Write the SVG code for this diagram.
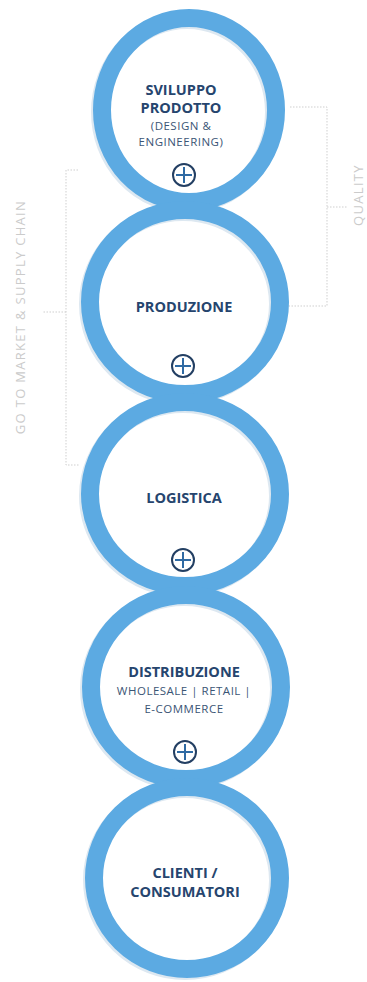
<svg xmlns="http://www.w3.org/2000/svg" width="367" height="982" viewBox="0 0 367 982">
<style>
.ring{fill:none;stroke:#5CAAE2;stroke-width:18}
.shadow{fill:none;stroke:#dde8f1;stroke-width:18}
.t{font-family:"Open Sans","Liberation Sans",sans-serif;font-weight:bold;font-size:14.5px;fill:#26456e;text-anchor:middle}
.s{font-family:"Open Sans","Liberation Sans",sans-serif;font-size:11.5px;fill:#3b5575;text-anchor:middle;letter-spacing:0.5px}
.pc{fill:none;stroke:#233f63;stroke-width:2}
.pl{stroke:#2f6aa3;stroke-width:2}
.br{fill:none;stroke:#cfcfcf;stroke-width:1;stroke-dasharray:1.5 1.5}
.side{font-family:"Open Sans","Liberation Sans",sans-serif;font-size:13px;fill:#cbcbcb;text-anchor:middle;letter-spacing:1.3px}
</style>
<g id="connectors">
<path class="br" d="M78,170 H66 V465 H80 M66,312 H42"/>
<path class="br" d="M290,107 H327 V306 H288 M327,207 H348"/>
</g>
<g id="labels">
<text class="side" transform="translate(25,317) rotate(-90)">GO TO MARKET &amp; SUPPLY CHAIN</text>
<text class="side" transform="translate(363,195) rotate(-90)">QUALITY</text>
</g>
<g id="shadows">
<ellipse class="shadow" cx="187" cy="112" rx="87" ry="92"/>
<ellipse class="shadow" cx="183" cy="304" rx="95" ry="92"/>
<ellipse class="shadow" cx="183" cy="496" rx="95" ry="92"/>
<ellipse class="shadow" cx="184" cy="689" rx="95" ry="92"/>
<ellipse class="shadow" cx="185" cy="880" rx="93" ry="91"/>
</g>
<g id="n1">
<ellipse class="ring" cx="189" cy="110" rx="87" ry="92"/>
<text class="t" x="181" y="95">SVILUPPO</text>
<text class="t" x="181" y="113">PRODOTTO</text>
<text class="s" x="181" y="130">(DESIGN &amp;</text>
<text class="s" x="181" y="146">ENGINEERING)</text>
<circle class="pc" cx="184" cy="175" r="11"/>
<path class="pl" d="M176,175 H192 M184,167 V183"/>
</g>
<g id="n2">
<ellipse class="ring" cx="185" cy="302" rx="95" ry="92"/>
<text class="t" x="184" y="312">PRODUZIONE</text>
<circle class="pc" cx="183" cy="366" r="11"/>
<path class="pl" d="M175,366 H191 M183,358 V374"/>
</g>
<g id="n3">
<ellipse class="ring" cx="185" cy="494" rx="95" ry="92"/>
<text class="t" x="184" y="503">LOGISTICA</text>
<circle class="pc" cx="183" cy="560" r="11"/>
<path class="pl" d="M175,560 H191 M183,552 V568"/>
</g>
<g id="n4">
<ellipse class="ring" cx="186" cy="687" rx="95" ry="92"/>
<text class="t" x="184" y="677">DISTRIBUZIONE</text>
<text class="s" x="184" y="695">WHOLESALE | RETAIL |</text>
<text class="s" x="184" y="713">E-COMMERCE</text>
<circle class="pc" cx="185" cy="752" r="11"/>
<path class="pl" d="M177,752 H193 M185,744 V760"/>
</g>
<g id="n5">
<ellipse class="ring" cx="187" cy="878" rx="93" ry="91"/>
<text class="t" x="185" y="878">CLIENTI /</text>
<text class="t" x="185" y="897">CONSUMATORI</text>
</g>
</svg>
